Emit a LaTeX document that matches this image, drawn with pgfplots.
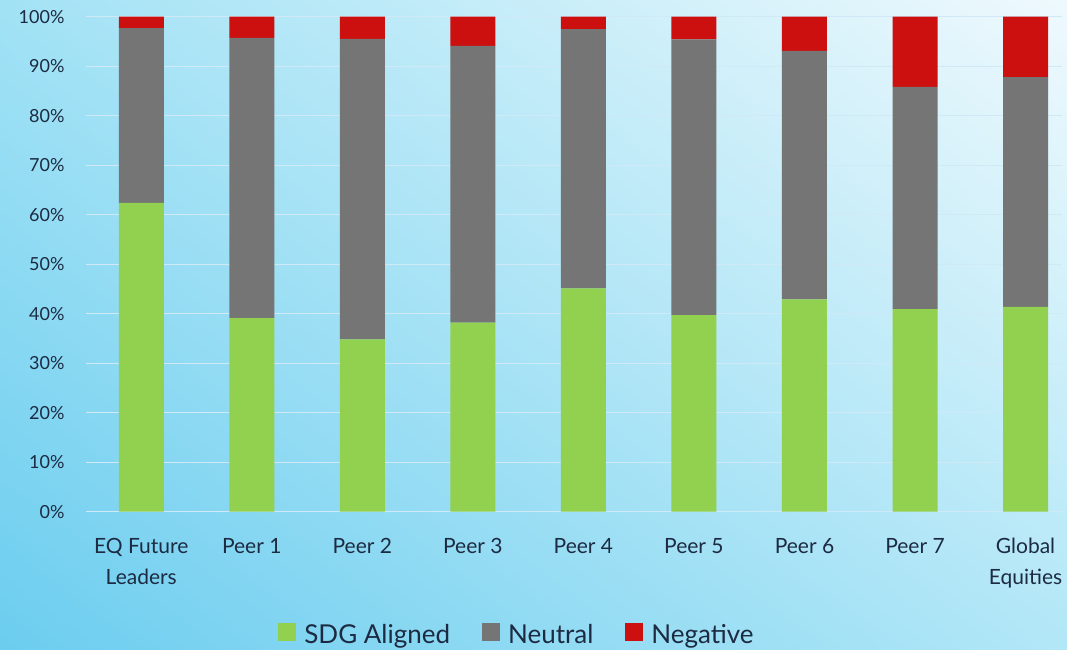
\documentclass[border=0pt]{standalone}
\usepackage{fontspec}
\setmainfont{Lato}
\usepackage{pgfplots}
\usetikzlibrary{shadings}
\pgfplotsset{compat=1.18}
\definecolor{sdg}{HTML}{92D050}
\definecolor{neu}{HTML}{757575}
\definecolor{neg}{HTML}{CC1010}
\definecolor{txt}{HTML}{1C2B42}
\definecolor{gridc}{HTML}{CFE9F6}
\definecolor{bgul}{HTML}{A2E2F5}
\definecolor{bgur}{HTML}{EFF9FD}
\definecolor{bgll}{HTML}{6CCDEF}
\definecolor{bglr}{HTML}{B2E7F7}
\begin{document}
\begin{tikzpicture}[x=1pt,y=1pt]
\shade[upper left=bgul, upper right=bgur, lower left=bgll, lower right=bglr] (0,0) rectangle (1067,649);
\begin{axis}[
  at={(86pt,137.3pt)}, anchor=south west,
  scale only axis, width=976pt, height=495pt,
  ybar stacked, bar width=45pt,
  xmin=-0.5, xmax=8.33, ymin=0, ymax=100,
  axis line style={draw=none},
  tick style={draw=none},
  ymajorgrids, major grid style={color=gridc, line width=1.2pt},
  ytick={0,10,...,100},
  yticklabels={0\%,10\%,20\%,30\%,40\%,50\%,60\%,70\%,80\%,90\%,100\%},
  xtick={0,...,8},
  xticklabels={EQ Future\\Leaders,Peer 1,Peer 2,Peer 3,Peer 4,Peer 5,Peer 6,Peer 7,Global\\Equities},
  yticklabel style={font=\fontsize{18}{22}\selectfont, text=txt, xshift=-18pt},
  xticklabel style={font=\fontsize{21}{31}\selectfont, text=txt, align=center, yshift=-23pt},
  clip=false,
  legend columns=3,
  legend style={draw=none, fill=none, font=\fontsize{26}{30}\selectfont, text=txt,
    at={(0.4416,-0.249)}, anchor=center,
    /tikz/every odd column/.append style={column sep=6pt},
    /tikz/every even column/.append style={column sep=30pt}},
  legend image code/.code={\fill[#1] (0pt,-6pt) rectangle (18pt,12pt);},
]
\addplot[fill=sdg, draw=none] coordinates {(0,62.4) (1,39.1) (2,34.8) (3,38.2) (4,45.1) (5,39.7) (6,42.9) (7,40.9) (8,41.4)};
\addlegendentry{SDG Aligned}
\addplot[fill=neu, draw=none] coordinates {(0,35.3) (1,56.6) (2,60.7) (3,55.9) (4,52.4) (5,55.7) (6,50.2) (7,44.9) (8,46.4)};
\addlegendentry{Neutral}
\addplot[fill=neg, draw=none] coordinates {(0,2.3) (1,4.3) (2,4.5) (3,5.9) (4,2.5) (5,4.6) (6,6.9) (7,14.2) (8,12.2)};
\addlegendentry{Negative}
\end{axis}
\end{tikzpicture}
\end{document}
